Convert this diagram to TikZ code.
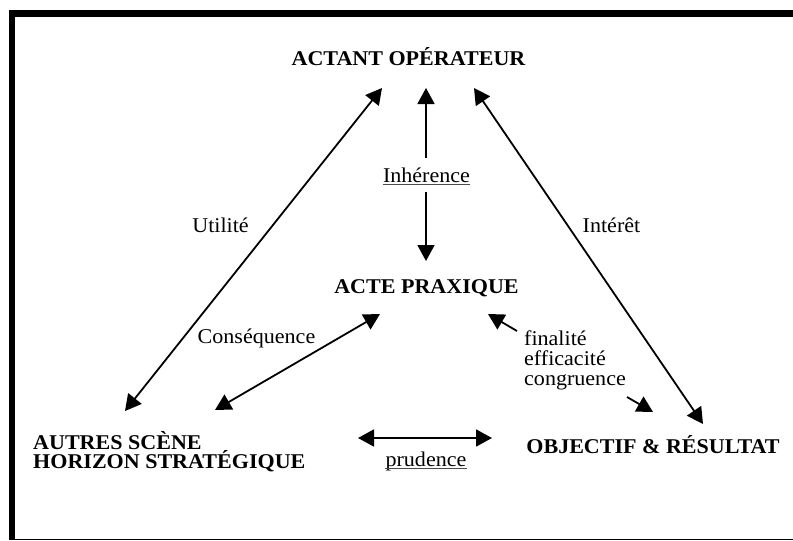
\documentclass[tikz,border=0pt]{standalone}
\usepackage{fontspec}
\setmainfont[FakeStretch=1.05]{Liberation Serif}
\usetikzlibrary{arrows.meta}
\begin{document}
\begin{tikzpicture}[x=1pt,y=-1pt,
  lbl/.style={inner sep=0pt, font=\fontsize{21}{20}\selectfont},
  head/.style={inner sep=0pt, font=\fontsize{21}{16.7}\selectfont\bfseries},
  tip/.style={Triangle[length=16pt,width=17pt]},
  arr/.style={line width=1.8pt, -{Triangle[length=16pt,width=17pt]}},
  darr/.style={line width=1.8pt, {Triangle[length=16pt,width=17pt]}-{Triangle[length=16pt,width=17pt]}},
  uline/.style={line width=0.8pt, black!70}]
\useasboundingbox (0,0) rectangle (793,541);
% frame
\fill (9,10) rectangle (793,17);
\fill (9,10) rectangle (15,540);
\draw[line width=1pt] (9,539.5) -- (793,539.5);
% nodes
\node[head, anchor=base] (actant) at (408.5,65) {ACTANT OPÉRATEUR};
\node[head, anchor=base] (acte) at (426.5,293) {ACTE PRAXIQUE};
\node[head, anchor=base west, align=left] (autres) at (33,468.5) {AUTRES SCÈNE\\HORIZON STRATÉGIQUE};
\node[head, anchor=base] (objectif) at (653,453) {OBJECTIF \& RÉSULTAT};
\node[lbl, anchor=base] (inh) at (426.5,182) {Inhérence};
\node[lbl, anchor=base] (prud) at (426,466) {prudence};
\node[lbl, anchor=base] (util) at (220.5,232) {Utilité};
\node[lbl, anchor=base] (inter) at (611.5,232) {Intérêt};
\node[lbl, anchor=base] (cons) at (256.5,343) {Conséquence};
\node[lbl, anchor=base west, align=left] (fin) at (524,385) {finalité\\efficacité\\congruence};
% underlines
\draw[uline] ([yshift=-2.5pt]inh.base west) -- ([yshift=-2.5pt]inh.base east);
\draw[uline] ([yshift=-2.5pt]prud.base west) -- ([yshift=-2.5pt]prud.base east);
% connector end points
\coordinate (uA) at (382,88);
\coordinate (uB) at (125,411);
\coordinate (iA) at (426,158);
\coordinate (iB) at (426,88);
\coordinate (iC) at (426,192);
\coordinate (iD) at (426,261);
\coordinate (tA) at (474,88);
\coordinate (tB) at (703,424);
\coordinate (cA) at (380,314);
\coordinate (cB) at (215,410);
\coordinate (fA) at (517,331);
\coordinate (fB) at (488,314);
\coordinate (gA) at (627,397);
\coordinate (gB) at (653,412);
\coordinate (pA) at (358,438);
\coordinate (pB) at (492,438);
% connectors
\draw[darr] (uA) -- (uB);
\draw[arr] (iA) -- (iB);
\draw[arr] (iC) -- (iD);
\draw[darr] (tA) -- (tB);
\draw[darr] (cA) -- (cB);
\draw[arr] (fA) -- (fB);
\draw[arr] (gA) -- (gB);
\draw[darr] (pA) -- (pB);
\end{tikzpicture}
\end{document}
